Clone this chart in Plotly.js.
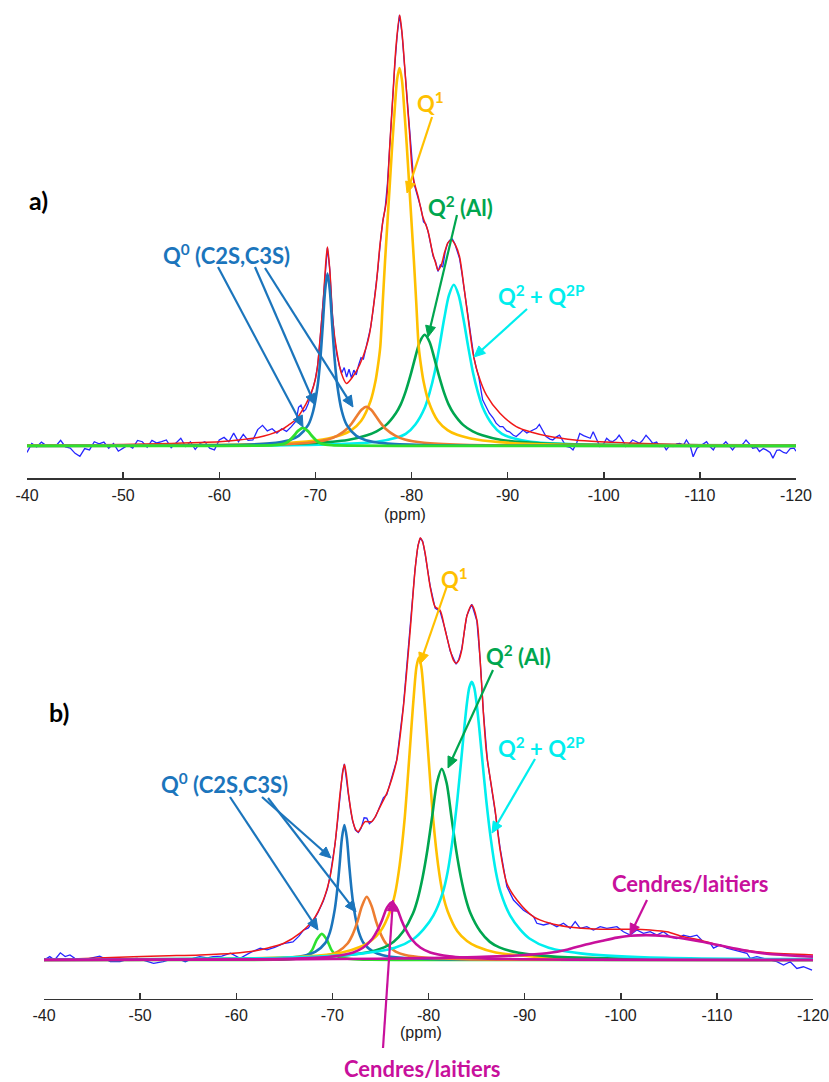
<!DOCTYPE html>
<html><head><meta charset="utf-8">
<script src="https://cdn.plot.ly/plotly-3.0.1.min.js"></script>
<style>html,body{margin:0;padding:0;background:#fff}#chart{width:829px;height:1082px}</style>
</head><body><div id="chart"></div>
<script>
// ---------- tick labels ----------
const tickVals = [-40,-50,-60,-70,-80,-90,-100,-110,-120];
const tickText = ['-40','-50','-60','-70','-80','-90','-100','-110','-120'];

// ================= PANEL a =================
const aExpX = [-40,-40.5,-41,-41.5,-42,-42.5,-43,-43.5,-44,-44.5,-45,-45.5,-46,-46.5,-47,-47.5,-48,-48.5,-49,-49.5,-50,-50.5,-51,-51.5,-52,-52.5,-53,-53.5,-54,-54.5,-55,-55.5,-56,-56.5,-57,-57.5,-58,-58.5,-59,-59.5,-60,-60.5,-61,-61.5,-62,-62.5,-63,-63.5,-64,-64.5,-65,-65.5,-66,-66.5,-67,-67.5,-68,-68.25,-68.5,-68.75,-69,-69.25,-69.5,-69.75,-70,-70.25,-70.5,-70.75,-71,-71.25,-71.5,-71.75,-72,-72.25,-72.5,-72.75,-73,-73.25,-73.5,-73.75,-74,-74.25,-74.5,-74.75,-75,-75.25,-75.5,-75.75,-76,-76.25,-76.5,-76.75,-77,-77.25,-77.5,-77.75,-78,-78.25,-78.5,-78.75,-79,-79.25,-79.5,-79.75,-80,-80.25,-80.5,-80.75,-81,-81.25,-81.5,-81.75,-82,-82.25,-82.5,-82.75,-83,-83.25,-83.5,-83.75,-84,-84.25,-84.5,-84.75,-85,-85.25,-85.5,-85.75,-86,-86.25,-86.5,-86.75,-87,-87.4,-87.75,-88.1,-88.5,-88.8,-89.2,-89.5,-89.9,-90.2,-90.6,-90.9,-91.3,-91.6,-92,-92.3,-92.7,-93,-93.3,-93.7,-94,-94.4,-94.7,-95,-95.4,-95.8,-96.1,-96.5,-96.8,-97.2,-97.5,-97.9,-98.2,-98.6,-98.9,-99.3,-99.6,-100,-100.3,-100.6,-100.9,-101.3,-101.6,-102,-102.3,-102.6,-103,-103.4,-103.7,-104,-104.4,-104.8,-105.1,-105.5,-105.8,-106.2,-106.5,-106.9,-107.2,-107.6,-107.9,-108.3,-108.6,-109,-109.3,-109.7,-110,-110.4,-110.7,-111,-111.4,-111.7,-112,-112.4,-112.7,-113,-113.4,-113.7,-114.1,-114.5,-114.8,-115.2,-115.5,-115.9,-116.2,-116.6,-116.9,-117.3,-117.6,-118,-118.3,-118.7,-119,-119.4,-119.8,-120];
const aExpY = [-1.5,0.6,-0.2,0.9,0.1,0.2,0,1.3,-0.2,-0.5,-1.7,-2.4,-0.6,-0.9,1.0,0.5,0.9,-0.5,0.6,-1.2,-0.5,0.2,-0.5,1.3,1.0,-0.3,1.3,0.7,1.0,1.4,-0.4,0.7,1.8,-0.1,1.0,-0.8,0.6,1.0,-0.5,-0.9,1.4,2.0,1.0,3.0,1.0,2.7,1.3,1.4,3.8,4.8,3.5,4.0,3.0,4.0,3.4,4.5,5.8,9.0,9.5,8.0,8.5,9.8,11.4,13.5,15.5,19,25,32,40,46,41,31,25,21,18.5,17,18.2,16,17.8,15.8,17.6,16.5,18.8,20.5,20.2,22.5,25,27.5,31.5,36,41,47,52,55,61,70,80,88,95,100,96,89,81,73.5,66,61,59,57,55,52,51.5,49.5,46.5,44,42.8,40.5,42,41.5,45,47,47.8,48,47,45.5,43.5,40,36,31.5,27.5,24,20.5,18,16,10.7,9,7.6,6.5,5.3,4.5,4.5,3.5,3.3,2.5,2.2,3.0,3.7,3.0,3.3,3.8,4.1,5.0,3.5,2.2,1.6,1.4,2.0,2.5,1.0,-0.1,-0.3,-0.9,0.8,2.9,2.4,2.2,1.8,3.3,1.5,-0.1,0.5,1.8,1.2,1.0,1.6,2.5,1.2,-0.1,0.4,1.4,1.0,0.6,1.2,2.5,1.5,0.6,0.9,-0.1,0.3,-0.9,0.2,-0.1,0.5,0.6,0.2,1.4,0.0,-2.5,-0.5,-0.1,0.5,1.0,0.0,-0.9,0.3,0.2,0.3,1.0,0.2,-0.9,0.0,-0.1,0.5,1.4,0.4,-0.5,-0.3,-1.3,-0.6,-0.9,-1.5,-2.8,-1.0,-0.9,-1.5,-1.7,-0.6,-0.5,-1.2];

const aFitX = [-40,-45,-50,-55,-58,-60,-62,-64,-65.26,-66.5,-67.3,-68,-68.7,-69.3,-69.8,-70.2,-70.45,-70.8,-71.1,-71.26,-71.5,-71.84,-72.2,-72.7,-73.23,-73.9,-74.6,-75.3,-75.65,-76,-76.35,-76.7,-77.04,-77.4,-77.75,-78.08,-78.4,-78.77,-79.05,-79.29,-79.55,-79.8,-80.15,-80.7,-81.2,-81.7,-82.2,-82.5,-82.77,-83.1,-83.45,-83.8,-84.15,-84.6,-85,-85.5,-86.05,-86.4,-86.9,-87.8,-89.2,-90.9,-92.5,-94.4,-97,-99.6,-105,-110,-118];
const aFitY = [0,0.2,0.35,0.6,0.8,1.0,1.4,2.0,2.7,3.8,5.0,6.2,8.5,11,13.8,18,23.9,33,43,46.2,40.8,28.5,22.3,16.9,14.5,16.1,18.8,23,26.2,31.6,37.8,46.2,52.4,57,70,82,93,100,95,88,80,72.6,62.5,57.8,53,50,44.8,42.5,40.8,42,45,47.2,47.8,46.5,43.9,36.2,26.9,21.5,16.9,11.8,7.6,4.5,3.2,2.2,1.4,1.0,0.5,0.3,0.2];

const aQ0X = [-40,-51.26,-61.26,-65.26,-67.26,-68.26,-69.26,-69.76,-70.26,-70.51,-70.76,-71.01,-71.26,-71.51,-71.76,-72.01,-72.26,-72.76,-73.26,-74.26,-75.26,-77.26,-81.26,-91.26,-120];
const aQ0Y = [0.02,0.06,0.22,0.62,1.36,2.35,4.9,8,14.4,20,27.7,36,40,36,27.7,20,14.4,8,4.9,2.35,1.36,0.62,0.22,0.06,0.01];

const aLimeX = [-40,-58.7,-63.7,-65.7,-66.7,-67.2,-67.7,-68.2,-68.7,-69.2,-69.7,-70.2,-70.7,-71.7,-73.7,-78.7,-120];
const aLimeY = [0.01,0.03,0.08,0.2,0.5,1.1,2.2,3.5,4.2,3.5,2.2,1.1,0.5,0.2,0.08,0.03,0.01];

const aOrX = [-40,-55.3,-65.3,-69.3,-71.3,-72.3,-73.3,-73.8,-74.3,-74.8,-75.3,-75.8,-76.3,-76.8,-77.3,-78.3,-79.3,-81.3,-85.3,-95.3,-120];
const aOrY = [0.03,0.08,0.3,0.76,1.5,2.4,4.0,5.3,6.9,8.4,9.1,8.4,6.9,5.3,4.0,2.4,1.5,0.76,0.3,0.08,0.03];

const aQ1X = [-40,-58.75,-66.75,-70.75,-72.75,-73.75,-74.75,-75.75,-76.25,-76.5,-76.75,-77,-77.25,-77.5,-77.75,-78,-78.25,-78.5,-78.75,-79,-79.25,-79.5,-79.75,-80,-80.25,-80.5,-80.75,-81,-81.25,-81.75,-82.75,-83.75,-84.75,-86.75,-90.75,-98.75,-120];
const aQ1Y = [0.08,0.22,0.65,1.5,2.6,3.7,5.8,10.5,15,18.5,23,33,43,52,61,70,78,85,87.7,85,78,70,61,52,43,33,23,18.5,15,10.5,5.8,3.7,2.6,1.5,0.65,0.22,0.07];

const aQ2AlX = [-40,-61.37,-69.37,-73.37,-75.37,-76.37,-77.37,-78.37,-78.87,-79.37,-79.87,-80.37,-80.87,-81.37,-81.87,-82.37,-82.87,-83.37,-83.87,-84.37,-85.37,-86.37,-87.37,-89.37,-93.37,-101.37,-120];
const aQ2AlY = [0.1,0.24,0.65,1.4,2.5,3.4,4.9,7.6,9.6,12.5,16.2,20.4,24.2,25.8,24.2,20.4,16.2,12.5,9.6,7.6,4.9,3.4,2.5,1.4,0.65,0.24,0.12];

const aQ2X = [-40,-64.4,-72.4,-76.4,-78.4,-79.4,-80.4,-81.4,-81.9,-82.4,-82.9,-83.4,-83.9,-84.4,-84.9,-85.4,-85.9,-86.4,-86.9,-87.4,-88.4,-89.4,-90.4,-92.4,-96.4,-104.4,-120];
const aQ2Y = [0.05,0.15,0.45,1.0,1.9,2.8,5,9,12.5,17,23,29.5,35,37.4,35,29.5,23,17,12.5,9,5,2.8,1.9,1.0,0.45,0.15,0.06];

// ================= PANEL b =================
const bExpX = [-40,-40.3,-40.6,-41.1,-41.7,-42.2,-42.7,-43.2,-44.4,-45.8,-46.9,-47.9,-48.8,-49.7,-50.7,-51.4,-52.4,-53.3,-54.2,-54.7,-55.5,-56.2,-57,-57.6,-58.5,-59.4,-60.4,-61.5,-62.5,-63.2,-64,-64.9,-65.9,-66.5,-67,-67.5,-68,-68.5,-69.06,-69.5,-69.76,-70.28,-70.55,-70.8,-71.05,-71.25,-71.45,-71.67,-71.9,-72.1,-72.4,-72.7,-73,-73.3,-73.58,-73.85,-74.1,-74.5,-74.96,-75.3,-75.66,-76.2,-76.7,-77.39,-78.1,-78.6,-78.9,-79.15,-79.4,-79.65,-80.17,-80.69,-81.2,-81.73,-82.25,-82.6,-82.87,-83.15,-83.46,-83.98,-84.5,-85.03,-85.37,-85.71,-86,-86.13,-86.93,-87.45,-88.15,-88.84,-89.88,-90.92,-91.27,-91.96,-92.65,-93.35,-94.04,-94.74,-95.26,-95.78,-96.47,-97.16,-97.86,-98.55,-99.6,-100.28,-100.98,-101.67,-102.36,-103.06,-103.76,-104.44,-105.14,-105.84,-106.52,-107.22,-107.92,-108.6,-109.3,-109.65,-110.34,-111.04,-111.73,-112.42,-113.12,-113.47,-114.16,-114.85,-115.55,-116.24,-116.93,-117.63,-118.32,-119,-119.9];
const bExpY = [0,0.4,0.8,0,1.7,0.8,1.2,0.4,0.2,0.9,-0.4,-0.4,0.2,0.4,-0.4,-0.8,-0.4,0.2,0,-0.4,0.4,0.8,0.5,0.8,0.9,1.6,0.4,1.8,2.8,2.4,3.0,3.9,4.3,5.6,7.1,7.6,9.2,11.2,14.0,17,19.9,27.5,33,39.8,44.5,46.5,43.5,39.2,35.5,33,30.8,30.2,31.3,33.7,33.6,32.3,32.8,34,36.5,38.4,39.2,43.2,47.4,60.3,78.5,92.6,98.2,100,99.2,96.2,88.7,83.4,82.6,78.4,73.2,71.2,70.1,71.2,73.8,81.6,84.3,80.4,71.3,58.8,50,47.2,35.2,26.5,17.4,14.2,11.8,10.3,8.7,8.3,8.7,7.9,8.7,7.5,9.1,7.5,7.9,7.1,7.9,7.5,7.9,6.7,5.9,7.1,6.3,6.7,5.9,6.7,5.5,5.1,5.9,5.5,5.9,4.3,4.0,2.8,3.6,2.8,2.4,2.0,1.6,0.4,0.8,0.4,0,-0.4,-1.2,-0.4,-2.0,-1.6,-2.4];

const bFitX = [-40,-45,-49.3,-53,-56.2,-59.7,-62,-63.2,-64.9,-66.6,-68,-69.06,-69.76,-70.28,-70.8,-71.05,-71.25,-71.45,-71.67,-72.1,-72.4,-72.7,-73,-73.4,-74.1,-74.96,-75.66,-76.2,-76.7,-77.39,-78.1,-78.6,-78.9,-79.15,-79.4,-79.65,-80.17,-80.69,-81.2,-81.73,-82.25,-82.6,-82.87,-83.15,-83.46,-83.98,-84.5,-85.03,-85.37,-85.71,-86,-86.13,-86.93,-87.45,-88.15,-89.2,-90.9,-92.65,-94.4,-97.86,-101.3,-103.06,-104.8,-106.5,-108.3,-110,-111.7,-115.2,-120];
const bFitY = [0,0.4,0.8,1.0,1.2,1.6,2.2,2.8,3.9,6.3,9.5,14.2,19.7,27.6,39.5,44,46.3,44,39.5,33.2,31,30.4,31.5,32.8,32.8,36.3,39.5,43,47.4,60,78.2,92.4,98,100,99,96.4,88.5,83.7,82.9,78.2,73.5,71,70.3,71,73.5,81.4,84.1,80.6,71.1,58.5,49.8,47.4,35.5,26.1,18.2,14.2,10.3,8.7,7.9,7.3,7.3,7.1,6.7,5.5,4.7,3.6,2.8,1.7,1.2];

const bQ0X = [-40,-51.25,-61.25,-65.25,-67.25,-68.25,-69.25,-69.75,-70.25,-70.5,-70.75,-71,-71.25,-71.5,-71.75,-72,-72.25,-72.75,-73.25,-74.25,-75.25,-77.25,-81.25,-91.25,-120];
const bQ0Y = [0.02,0.05,0.19,0.52,1.15,2.0,4.0,6.6,12,16.5,22.5,29,32,29,22.5,16.5,12,6.6,4.0,2.0,1.15,0.52,0.19,0.05,0.01];

const bLimeX = [-40,-58.9,-63.9,-65.9,-66.9,-67.4,-67.9,-68.4,-68.9,-69.4,-69.9,-70.4,-70.9,-71.9,-73.9,-78.9,-120];
const bLimeY = [0.01,0.03,0.06,0.25,0.6,1.1,2.4,4.9,6.2,4.9,2.4,1.1,0.6,0.25,0.06,0.03,0.01];

const bOrX = [-40,-53.58,-63.58,-67.58,-69.58,-70.58,-71.58,-72.08,-72.58,-73.08,-73.58,-74.08,-74.58,-75.08,-75.58,-76.58,-77.58,-79.58,-83.58,-93.58,-120];
const bOrY = [0.02,0.05,0.21,0.58,1.2,2.0,3.9,5.9,8.9,12.8,15,12.8,8.9,5.9,3.9,2.0,1.2,0.58,0.21,0.05,0.02];

const bCen1X = [-40,-56.18,-66.18,-70.18,-72.18,-73.18,-74.18,-74.68,-75.18,-75.68,-76.18,-76.68,-77.18,-77.68,-78.18,-79.18,-80.18,-82.18,-86.18,-96.18,-120];
const bCen1Y = [0.03,0.08,0.33,0.88,1.8,2.9,5.1,7,9.5,12.4,13.7,12.4,9.5,7,5.1,2.9,1.8,0.88,0.33,0.08,0.03];

const bQ1X = [-40,-59,-67,-71,-73,-74,-75,-76,-76.5,-77,-77.5,-78,-78.25,-78.5,-78.75,-79,-79.25,-79.5,-79.75,-80,-80.5,-81,-81.5,-82,-83,-84,-85,-87,-91,-99,-120];
const bQ1Y = [0.1,0.3,0.8,1.8,3.2,4.5,6.8,11.5,15.5,22.5,33,48,56,63.5,69.5,71.7,69.5,63.5,56,48,33,22.5,15.5,11.5,6.8,4.5,3.2,1.8,0.8,0.3,0.1];

const bQ2AlX = [-40,-61.38,-69.38,-73.38,-75.38,-76.38,-77.38,-78.38,-78.88,-79.38,-79.88,-80.38,-80.88,-81.38,-81.88,-82.38,-82.88,-83.38,-83.88,-84.38,-85.38,-86.38,-87.38,-89.38,-93.38,-101.38,-120];
const bQ2AlY = [0.1,0.28,0.75,1.7,3.0,4.3,6.8,11,14.5,19.5,26,34,42,45.3,42,34,26,19.5,14.5,11,6.8,4.3,3.0,1.7,0.75,0.28,0.12];

const bQ2X = [-40,-49.5,-64.5,-72.5,-76.5,-78.5,-79.5,-80.5,-81.5,-82,-82.5,-83,-83.5,-83.75,-84,-84.25,-84.5,-84.75,-85,-85.25,-85.5,-86,-86.5,-87,-87.5,-88.5,-89.5,-90.5,-92.5,-96.5,-104.5,-120];
const bQ2Y = [0.12,0.16,0.5,1.4,2.9,5.1,7.3,10.5,16.1,21,28.4,38,49.7,55.6,60.9,64.6,65.9,64.6,60.9,55.6,49.7,38,28.4,21,16.1,10.5,7.3,5.1,2.9,1.4,0.5,0.2];

const bCen2X = [-40,-60,-70,-80,-85,-88,-90,-92.65,-94.5,-96.1,-98,-99.6,-101,-102.7,-104.5,-106.5,-108.3,-110,-111.7,-113.5,-115.2,-116.9,-118.5,-120];
const bCen2Y = [0.05,0.12,0.22,0.45,0.7,0.95,1.2,1.7,2.5,3.5,4.5,5.3,5.75,5.9,5.7,5.1,4.4,3.6,2.8,2.0,1.5,1.2,0.95,0.8];

// ---------- colours ----------
const C = {
  exp:'#2626FF', fit:'#F01818', q0:'#1B75BC', orange:'#ED7D31', lime:'#2EE02E',
  q1:'#FFC000', q2al:'#00A64F', q2:'#00EEEE', cen:'#C8109C', text:'#222222'
};

function tr(x, y, color, width, ax, shape) {
  return {x:x, y:y, type:'scatter', mode:'lines', xaxis:ax[0], yaxis:ax[1],
    line:{color:color, width:width, shape:shape||'spline', smoothing:0.8}, hoverinfo:'skip', showlegend:false};
}
const A = ['x','y'], B = ['x2','y2'];
const data = [
  tr(aExpX, aExpY, C.exp, 1.3, A, 'linear'),
  tr(aFitX, aFitY, C.fit, 1.5, A),
  tr(aQ2X, aQ2Y, C.q2, 2.6, A),
  tr(aQ2AlX, aQ2AlY, C.q2al, 2.6, A),
  tr(aQ1X, aQ1Y, C.q1, 2.6, A),
  tr(aOrX, aOrY, C.orange, 2.6, A),
  tr(aQ0X, aQ0Y, C.q0, 2.6, A),
  tr(aLimeX, aLimeY, C.lime, 2.8, A),

  tr(bExpX, bExpY, C.exp, 1.3, B, 'linear'),
  tr(bFitX, bFitY, C.fit, 1.5, B),
  tr(bLimeX, bLimeY, C.lime, 2.6, B),
  tr(bQ0X, bQ0Y, C.q0, 2.6, B),
  tr(bOrX, bOrY, C.orange, 2.6, B),
  tr(bQ1X, bQ1Y, C.q1, 2.6, B),
  tr(bQ2AlX, bQ2AlY, C.q2al, 2.6, B),
  tr(bQ2X, bQ2Y, C.q2, 2.6, B),
  tr(bCen2X, bCen2Y, C.cen, 2.6, B),
  tr(bCen1X, bCen1Y, C.cen, 2.6, B)
];

const W = 829, H = 1082;
const px = v => v / W, py = v => 1 - v / H;

function xa(domain) {
  return {domain:domain, range:[-40,-120], showline:true, linecolor:'#333', linewidth:1.5,
    ticks:'inside', ticklen:6, tickwidth:1.5, tickcolor:'#333', showgrid:false, zeroline:false,
    tickmode:'array', tickvals:tickVals, ticktext:tickText, ticklabeloverflow:'allow', ticklabelstandoff:2,
    tickfont:{family:'"Liberation Sans", Arial, sans-serif', size:16, color:C.text}, fixedrange:true,
    title:{text:''}};
}
function ya(domain, range) {
  return {domain:domain, range:range, visible:false, showgrid:false, zeroline:false, fixedrange:true,
    showticklabels:false, ticks:'', showline:false, title:{text:''}};
}

const lab = {family:'Lato, "Open Sans", sans-serif', size:22};
function txt(x, y, s, color, size) {
  return {xref:'paper', yref:'paper', x:px(x), y:py(y), xanchor:'center', yanchor:'middle',
    text:s, showarrow:false, font:Object.assign({}, lab, {color:color, size:size||lab.size})};
}
// arrows drawn as a line shape plus a filled triangular head (tail tx,ty -> head hx,hy, in px)
const shapes = [];
function arrow(tx, ty, hx, hy, color) {
  const dx = hx - tx, dy = hy - ty, L = Math.hypot(dx, dy);
  const ux = dx / L, uy = dy / L, nx = -uy, ny = ux;
  const hl = 11, hw = 5;
  const bx = hx - hl * ux, by = hy - hl * uy;
  shapes.push({type:'line', xref:'paper', yref:'paper', x0:px(tx), y0:py(ty), x1:px(bx + ux*2), y1:py(by + uy*2),
    line:{color:color, width:2.2}});
  const p = `M ${px(hx)} ${py(hy)} L ${px(bx + hw*nx)} ${py(by + hw*ny)} L ${px(bx - hw*nx)} ${py(by - hw*ny)} Z`;
  shapes.push({type:'path', xref:'paper', yref:'paper', path:p, fillcolor:color, line:{color:color, width:1}});
}
arrow(218, 267, 303, 427, C.q0);
arrow(255, 267, 315, 405, C.q0);
arrow(265, 268, 353, 407, C.q0);
arrow(432, 117, 407, 193, C.q1);
arrow(457, 215, 428, 337, C.q2al);
arrow(527, 309, 474, 357, C.q2);
arrow(230, 797, 318, 930, C.q0);
arrow(262, 797, 331, 858, C.q0);
arrow(268, 798, 356, 912, C.q0);
arrow(447, 586, 420, 664, C.q1);
arrow(493, 670, 448, 768, C.q2al);
arrow(535, 759, 492, 833, C.q2);
arrow(647, 900, 630, 935, C.cen);
arrow(383, 1048, 393, 900, C.cen);

const ppmFont = {family:'"Liberation Sans", Arial, sans-serif', size:16, color:C.text};

const annotations = [
  txt(38, 200, '<b>a)</b>', '#000', 25),
  txt(226, 255, '<b>Q<sup>0</sup> (C2S,C3S)</b>', C.q0),
  txt(430, 103, '<b>Q<sup>1</sup></b>', C.q1),
  txt(460, 207, '<b>Q<sup>2</sup> (Al)</b>', C.q2al),
  txt(541, 295, '<b>Q<sup>2</sup> + Q<sup>2P</sup></b>', C.q2),
  {xref:'paper', yref:'paper', x:px(405), y:py(514), text:'(ppm)', showarrow:false, font:ppmFont, xanchor:'center', yanchor:'middle'},
  txt(59, 712, '<b>b)</b>', '#000', 25),
  txt(224, 783, '<b>Q<sup>0</sup> (C2S,C3S)</b>', C.q0),
  txt(455, 578, '<b>Q<sup>1</sup></b>', C.q1),
  txt(518, 655, '<b>Q<sup>2</sup> (Al)</b>', C.q2al),
  txt(541, 747, '<b>Q<sup>2</sup> + Q<sup>2P</sup></b>', C.q2),
  txt(690, 883, '<b>Cendres/laitiers</b>', C.cen),
  txt(422, 1068, '<b>Cendres/laitiers</b>', C.cen),
  {xref:'paper', yref:'paper', x:px(421), y:py(1032), text:'(ppm)', showarrow:false, font:ppmFont, xanchor:'center', yanchor:'middle'}
];

const layout = {
  width:W, height:H, margin:{l:0, r:0, t:0, b:0, pad:0},
  paper_bgcolor:'#fff', plot_bgcolor:'rgba(0,0,0,0)', showlegend:false,
  xaxis: Object.assign(xa([27/W, 796/W]), {anchor:'y'}),
  yaxis: Object.assign(ya([(H-478)/H, (H-8)/H], [-7.42, 101.62]), {anchor:'x'}),
  xaxis2: Object.assign(xa([44/W, 813/W]), {anchor:'y2'}),
  yaxis2: Object.assign(ya([(H-998.7)/H, (H-528)/H], [-9.17, 102.37]), {anchor:'x2'}),
  annotations: annotations,
  shapes: shapes
};

Plotly.newPlot('chart', data, layout, {staticPlot:true, displayModeBar:false});
</script></body></html>
